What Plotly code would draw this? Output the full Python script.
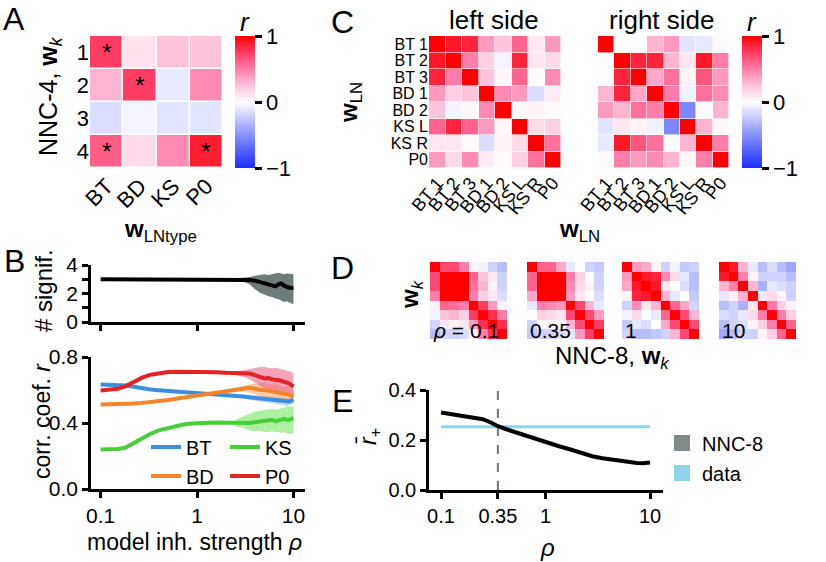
import plotly.graph_objects as go

W, H = 826, 562
FONT = "Liberation Sans, Arial, Helvetica, sans-serif"

def px(x):
    return x / W

def py(y):
    return 1 - y / H

def dx(a, b):
    return [a / W, b / W]

def dy(top, bottom):
    return [1 - bottom / H, 1 - top / H]

# ---------------- data ----------------
# Panel A
A_cols = ["BT", "BD", "KS", "P0"]
A_rows = ["1", "2", "3", "4"]
A_r = [[0.75, 0.12, 0.25, 0.25],
       [0.30, 0.75, -0.10, 0.45],
       [-0.15, -0.05, -0.12, -0.12],
       [0.62, 0.15, 0.45, 0.88]]
A_sig = [["*", "", "", ""],
         ["", "*", "", ""],
         ["", "", "", ""],
         ["*", "", "", "*"]]

# Panel C
LN_labels = ["BT 1", "BT 2", "BT 3", "BD 1", "BD 2", "KS L", "KS R", "P0"]
C_left = [[1.00, 0.90, 0.85, 0.40, 0.25, 0.60, 0.10, 0.40],
          [0.90, 1.00, 0.50, 0.20, -0.05, 0.85, 0.10, 0.15],
          [0.85, 0.50, 1.00, 0.25, 0.03, 0.60, 0.02, 0.45],
          [0.40, 0.20, 0.25, 1.00, 0.45, 0.40, -0.15, 0.08],
          [0.25, -0.05, 0.03, 0.45, 1.00, 0.03, 0.05, 0.02],
          [0.60, 0.85, 0.60, 0.40, 0.03, 1.00, 0.15, 0.20],
          [0.10, 0.10, 0.02, -0.15, 0.05, 0.15, 1.00, 0.55],
          [0.40, 0.15, 0.45, 0.08, 0.02, 0.20, 0.55, 1.00]]
C_right = [[1.00, 0.00, 0.00, 0.30, 0.40, -0.12, -0.10, 0.02],
           [0.00, 1.00, 0.85, 0.85, 0.30, 0.10, 0.90, 0.50],
           [0.00, 0.85, 1.00, 0.35, 0.55, 0.05, 0.65, 0.40],
           [0.30, 0.85, 0.35, 1.00, 0.50, -0.06, 0.55, 0.45],
           [0.40, 0.30, 0.55, 0.50, 1.00, -0.55, 0.02, 0.30],
           [-0.12, 0.10, 0.05, -0.06, -0.55, 1.00, 0.30, 0.03],
           [-0.10, 0.90, 0.65, 0.55, 0.02, 0.30, 1.00, 0.50],
           [0.02, 0.50, 0.40, 0.45, 0.30, 0.03, 0.50, 1.00]]

# Panel D
D_labels = ["<i>ρ</i> = 0.1", "0.35", "1", "10"]
D_01 = [[1, 0.7, 0.7, 0.5, 0.05, -0.05, -0.2, -0.3],
        [0.7, 1, 1, 1, 0.6, 0.25, 0.1, -0.2],
        [0.7, 1, 1, 1, 0.55, 0.3, 0.05, -0.2],
        [0.5, 1, 1, 1, 0.5, 0.2, 0.1, -0.15],
        [0.05, 0.6, 0.55, 0.5, 1, 0.75, 0.4, 0.05],
        [-0.05, 0.25, 0.3, 0.2, 0.75, 1, 0.8, 0.5],
        [-0.2, 0.1, 0.05, 0.1, 0.4, 0.8, 1, 0.8],
        [-0.3, -0.2, -0.2, -0.15, 0.05, 0.5, 0.8, 1]]
D_035 = [[1, 0.6, 0.6, 0.35, -0.1, 0.0, -0.2, -0.25],
         [0.6, 1, 1, 1, 0.5, 0.2, 0.0, -0.2],
         [0.6, 1, 1, 1, 0.45, 0.15, 0.05, -0.2],
         [0.35, 1, 1, 1, 0.4, 0.1, 0.0, -0.15],
         [-0.1, 0.5, 0.45, 0.4, 1, 0.7, 0.3, -0.1],
         [0.0, 0.2, 0.15, 0.1, 0.7, 1, 0.7, 0.4],
         [-0.2, 0.0, 0.05, 0.0, 0.3, 0.7, 1, 0.75],
         [-0.25, -0.2, -0.2, -0.15, -0.1, 0.4, 0.75, 1]]
D_1 = [[1, 0.4, 0.35, 0.05, -0.2, -0.05, -0.25, -0.2],
       [0.4, 1, 0.9, 0.85, 0.45, 0.15, -0.1, -0.3],
       [0.35, 0.9, 1, 0.9, 0.1, 0.0, -0.15, -0.3],
       [0.05, 0.85, 0.9, 1, 0.3, -0.1, 0.0, -0.25],
       [-0.2, 0.45, 0.1, 0.3, 1, 0.6, 0.35, -0.2],
       [-0.05, 0.15, 0.0, -0.1, 0.6, 1, 0.7, 0.3],
       [-0.25, -0.1, -0.15, 0.0, 0.35, 0.7, 1, 0.7],
       [-0.2, -0.3, -0.3, -0.25, -0.2, 0.3, 0.7, 1]]
D_10 = [[1, 0.9, 0.3, -0.1, -0.3, -0.15, -0.3, -0.4],
        [0.9, 1, 0.5, 0.05, -0.2, -0.2, -0.2, -0.3],
        [0.3, 0.5, 1, 0.3, -0.35, -0.1, -0.15, -0.2],
        [-0.1, 0.05, 0.3, 1, 0.1, 0.15, 0.05, -0.2],
        [-0.3, -0.2, -0.35, 0.1, 1, 0.5, 0.2, 0.05],
        [-0.15, -0.2, -0.1, 0.15, 0.5, 1, 0.5, 0.2],
        [-0.3, -0.2, -0.15, 0.05, 0.2, 0.5, 1, 0.6],
        [-0.4, -0.3, -0.2, -0.2, 0.05, 0.2, 0.6, 1]]
D_mats = [D_01, D_035, D_1, D_10]

# Panel B
rho_B = [0.1, 0.12, 0.15, 0.18, 0.22, 0.27, 0.33, 0.4, 0.5, 0.65, 0.8, 1.0, 1.3, 1.6, 2.0,
         2.5, 3.0, 3.5, 4.0, 4.5, 5.0, 5.5, 6.0, 6.5, 7.0, 7.5, 8.0, 8.5, 9.0, 9.5, 10.0]
signif = [3, 3, 3, 3, 3, 3, 3, 3, 3, 3, 3, 3, 3, 3, 3,
          3.0, 3.0, 2.95, 2.9, 2.8, 2.7, 2.65, 2.58, 2.5, 2.65, 2.7, 2.55, 2.45, 2.42, 2.38, 2.4]
r_BT = [0.634, 0.634, 0.632, 0.628, 0.620, 0.610, 0.603, 0.599, 0.595, 0.591, 0.588, 0.585, 0.580, 0.576, 0.571,
        0.566, 0.560, 0.556, 0.552, 0.549, 0.546, 0.543, 0.542, 0.538, 0.536, 0.534, 0.530, 0.526, 0.530, 0.535, 0.540]
r_BD = [0.512, 0.512, 0.513, 0.515, 0.518, 0.522, 0.527, 0.533, 0.540, 0.550, 0.558, 0.567, 0.577, 0.585, 0.594,
        0.603, 0.610, 0.613, 0.608, 0.600, 0.600, 0.596, 0.590, 0.590, 0.585, 0.580, 0.578, 0.575, 0.570, 0.565, 0.560]
r_KS = [0.240, 0.240, 0.242, 0.250, 0.280, 0.310, 0.335, 0.355, 0.370, 0.385, 0.395, 0.400, 0.402, 0.403, 0.402,
        0.400, 0.400, 0.400, 0.405, 0.410, 0.410, 0.415, 0.420, 0.410, 0.415, 0.420, 0.425, 0.420, 0.418, 0.425, 0.430]
r_P0 = [0.597, 0.600, 0.607, 0.622, 0.648, 0.675, 0.693, 0.703, 0.709, 0.711, 0.711, 0.710, 0.709, 0.707, 0.704,
        0.700, 0.698, 0.700, 0.690, 0.680, 0.670, 0.672, 0.665, 0.660, 0.660, 0.655, 0.652, 0.645, 0.640, 0.630, 0.620]

rho_band = [2.5, 3.0, 3.5, 4.0, 4.5, 5.0, 5.5, 6.0, 6.5, 7.0, 7.5, 8.0, 8.5, 9.0, 9.5, 10.0]
signif_hi = [3.05, 3.1, 3.15, 3.25, 3.3, 3.35, 3.3, 3.35, 3.45, 3.45, 3.4, 3.35, 3.4, 3.4, 3.38, 3.35]
signif_lo = [2.95, 2.85, 2.65, 2.3, 2.05, 1.9, 1.8, 1.75, 1.65, 1.6, 1.5, 1.4, 1.45, 1.4, 1.3, 1.25]
BT_hi = [0.572, 0.570, 0.570, 0.570, 0.568, 0.565, 0.562, 0.560, 0.558, 0.556, 0.555, 0.553, 0.550, 0.552, 0.555, 0.560]
BT_lo = [0.560, 0.550, 0.540, 0.535, 0.530, 0.527, 0.523, 0.520, 0.518, 0.515, 0.512, 0.507, 0.502, 0.508, 0.515, 0.520]
BD_hi = [0.610, 0.625, 0.635, 0.640, 0.645, 0.645, 0.640, 0.635, 0.640, 0.630, 0.625, 0.620, 0.625, 0.615, 0.610, 0.600]
BD_lo = [0.595, 0.590, 0.585, 0.575, 0.560, 0.555, 0.550, 0.545, 0.540, 0.540, 0.535, 0.535, 0.530, 0.525, 0.520, 0.520]
KS_hi = [0.420, 0.440, 0.460, 0.470, 0.475, 0.480, 0.480, 0.485, 0.480, 0.485, 0.490, 0.495, 0.495, 0.500, 0.500, 0.500]
KS_lo = [0.380, 0.370, 0.355, 0.350, 0.350, 0.345, 0.345, 0.350, 0.345, 0.345, 0.340, 0.345, 0.340, 0.335, 0.335, 0.335]
P0_hi = [0.710, 0.720, 0.730, 0.735, 0.740, 0.740, 0.735, 0.730, 0.735, 0.730, 0.725, 0.720, 0.720, 0.715, 0.710, 0.700]
P0_lo = [0.690, 0.680, 0.665, 0.645, 0.625, 0.610, 0.605, 0.600, 0.590, 0.585, 0.580, 0.570, 0.565, 0.560, 0.555, 0.545]

# Panel E
rho_E = [0.1, 0.12, 0.15, 0.2, 0.25, 0.3, 0.35, 0.45, 0.6, 0.8, 1.0, 1.3, 1.7, 2.2, 2.8, 3.5, 4.5, 5.5, 6.5, 7.5, 8.5, 10]
r_plus = [0.31, 0.305, 0.30, 0.293, 0.283, 0.27, 0.255, 0.239, 0.222, 0.205, 0.19, 0.177, 0.163, 0.148, 0.135, 0.127,
          0.12, 0.115, 0.112, 0.108, 0.107, 0.11]
rho_data = [0.1, 10]
r_data = [0.253, 0.253]
rho_chosen = 0.35

# ---------------- styling ----------------
CS = [[0.0, "rgb(25,45,255)"], [0.25, "rgb(135,145,252)"], [0.5, "rgb(255,255,255)"],
      [0.625, "rgb(255,195,220)"], [0.75, "rgb(255,125,170)"], [0.875, "rgb(255,60,100)"],
      [1.0, "rgb(255,0,0)"]]
C_BT, C_BD, C_KS, C_P0 = "#3b8fe0", "#f5842a", "#47cf38", "#e42326"
BAND = {"BT": "rgba(110,185,235,0.55)", "BD": "rgba(245,160,100,0.55)",
        "KS": "rgba(120,230,100,0.6)", "P0": "rgba(235,90,130,0.55)"}

fig = go.Figure()

# A heatmap
fig.add_trace(go.Heatmap(z=A_r, x=A_cols, y=A_rows, coloraxis="coloraxis", xgap=1.5, ygap=1.5,
                         text=A_sig, texttemplate="%{text}", textfont=dict(size=24, color="black"),
                         xaxis="x", yaxis="y", hoverinfo="skip"))
# C heatmaps
fig.add_trace(go.Heatmap(z=C_left, x=LN_labels, y=LN_labels, coloraxis="coloraxis2", xgap=0.6, ygap=0.6,
                         xaxis="x2", yaxis="y2"))
fig.add_trace(go.Heatmap(z=C_right, x=LN_labels, y=LN_labels, coloraxis="coloraxis2", xgap=0.6, ygap=0.6,
                         xaxis="x3", yaxis="y3"))
# D heatmaps
for i, m in enumerate(D_mats):
    fig.add_trace(go.Heatmap(z=m, coloraxis="coloraxis3", xaxis=f"x{4+i}", yaxis=f"y{4+i}"))

# B top
fig.add_trace(go.Scatter(x=rho_band + rho_band[::-1], y=signif_hi + signif_lo[::-1], fill="toself",
                         fillcolor="rgb(112,124,124)", line=dict(width=0), mode="lines",
                         showlegend=False, xaxis="x8", yaxis="y8"))
fig.add_trace(go.Scatter(x=rho_B, y=signif, mode="lines", line=dict(color="black", width=4),
                         showlegend=False, xaxis="x8", yaxis="y8"))

# B bottom bands
for key, hi, lo in [("BT", BT_hi, BT_lo), ("BD", BD_hi, BD_lo), ("KS", KS_hi, KS_lo), ("P0", P0_hi, P0_lo)]:
    fig.add_trace(go.Scatter(x=rho_band + rho_band[::-1], y=hi + lo[::-1], fill="toself",
                             fillcolor=BAND[key], line=dict(width=0), mode="lines",
                             showlegend=False, xaxis="x9", yaxis="y9"))
# B bottom lines
for name, ys, col, lg in [("BT", r_BT, C_BT, "legend"), ("BD", r_BD, C_BD, "legend3"),
                          ("KS", r_KS, C_KS, "legend2"), ("P0", r_P0, C_P0, "legend4")]:
    fig.add_trace(go.Scatter(x=rho_B, y=ys, mode="lines", name=name, line=dict(color=col, width=4),
                             legend=lg, xaxis="x9", yaxis="y9"))

# E
fig.add_trace(go.Scatter(x=[rho_chosen, rho_chosen], y=[0, 0.4], mode="lines",
                         line=dict(color="#6e7878", width=2, dash="dash"), showlegend=False,
                         xaxis="x10", yaxis="y10"))
fig.add_trace(go.Scatter(x=rho_data, y=r_data, mode="lines", line=dict(color="#8fd3ec", width=3),
                         showlegend=False, xaxis="x10", yaxis="y10"))
fig.add_trace(go.Scatter(x=rho_E, y=r_plus, mode="lines", line=dict(color="black", width=4),
                         showlegend=False, xaxis="x10", yaxis="y10"))
fig.add_trace(go.Scatter(x=[None], y=[None], mode="markers", name="NNC-8",
                         marker=dict(symbol="square", size=16, color="#7f8a8a"),
                         legend="legend5", xaxis="x10", yaxis="y10"))
fig.add_trace(go.Scatter(x=[None], y=[None], mode="markers", name="data",
                         marker=dict(symbol="square", size=16, color="#8fd3ec"),
                         legend="legend6", xaxis="x10", yaxis="y10"))

# ---------------- layout ----------------
def hm_axes(xdom, ydom, labels, n, xlabels=True, ylabels=True, xfs=18, yfs=16, angle=-50):
    xa = dict(domain=xdom, range=[-0.5, n - 0.5], showgrid=False, zeroline=False, ticks="",
              showticklabels=xlabels, tickangle=angle, tickfont=dict(size=xfs), showline=False)
    ya = dict(domain=ydom, range=[n - 0.5, -0.5], showgrid=False, zeroline=False, ticks="",
              showticklabels=ylabels, tickfont=dict(size=yfs), showline=False)
    if labels is not None:
        xa.update(tickmode="array", tickvals=labels, ticktext=labels, type="category")
        ya.update(tickmode="array", tickvals=labels, ticktext=labels, type="category")
    return xa, ya

def line_axes(xdom, ydom, xrange, yrange, xtickvals, xticktext, ytickvals, yticktext, fs):
    common = dict(showgrid=False, zeroline=False, showline=True, linecolor="black", linewidth=2.5,
                  ticks="outside", ticklen=6, tickwidth=2.5, tickcolor="black", tickfont=dict(size=fs))
    xa = dict(domain=xdom, type="log", range=xrange, tickmode="array", tickvals=xtickvals,
              ticktext=xticktext, **common)
    ya = dict(domain=ydom, range=yrange, tickmode="array", tickvals=ytickvals, ticktext=yticktext, **common)
    return xa, ya

lay = {}
xa, ya = hm_axes(dx(90, 223), dy(36, 168), None, 4, xfs=22, yfs=22, angle=-45)
lay["xaxis"], lay["yaxis"] = dict(xa, anchor="y"), dict(ya, anchor="x")
xa, ya = hm_axes(dx(429, 561), dy(36, 168), LN_labels, 8)
lay["xaxis2"], lay["yaxis2"] = dict(xa, anchor="y2"), dict(ya, anchor="x2")
xa, ya = hm_axes(dx(598, 729), dy(36, 168), LN_labels, 8, ylabels=False)
lay["xaxis3"], lay["yaxis3"] = dict(xa, anchor="y3"), dict(ya, anchor="x3")
D_x = [(430, 507), (527, 604), (622, 699), (719, 796)]
for i, (a, b) in enumerate(D_x):
    xa, ya = hm_axes(dx(a, b), dy(262, 339), None, 8, xlabels=False, ylabels=False)
    lay[f"xaxis{4+i}"] = dict(xa, anchor=f"y{4+i}")
    lay[f"yaxis{4+i}"] = dict(ya, anchor=f"x{4+i}")

xa, ya = line_axes(dx(91, 305), dy(265, 322), [-1.1, 1.12], [0, 4], [0.1, 1, 10], ["", "", ""],
                   [0, 1, 2, 3, 4], ["0", "", "2", "", "4"], 21)
lay["xaxis8"], lay["yaxis8"] = dict(xa, anchor="y8"), dict(ya, anchor="x8")
xa, ya = line_axes(dx(91, 305), dy(357, 489), [-1.1, 1.12], [0, 0.8], [0.1, 1, 10], ["0.1", "1", "10"],
                   [0, 0.4, 0.8], ["0.0", "0.4", "0.8"], 21)
lay["xaxis9"], lay["yaxis9"] = dict(xa, anchor="y9"), dict(ya, anchor="x9")
xa, ya = line_axes(dx(429, 663), dy(390, 490), [-1.115, 1.124], [0, 0.4], [0.1, 0.35, 1, 10],
                   ["0.1", "0.35", "1", "10"], [0, 0.2, 0.4], ["0.0", "0.2", "0.4"], 20)
lay["xaxis10"], lay["yaxis10"] = dict(xa, anchor="y10"), dict(ya, anchor="x10")

cb_common = dict(lenmode="pixels", len=132, thicknessmode="pixels", thickness=20, outlinewidth=0,
                 xanchor="left", yanchor="middle", y=py(102), xpad=0, ypad=0,
                 tickmode="array", tickvals=[-1, 0, 1], ticktext=["\u22121", "0", "1"],
                 ticks="outside", ticklen=7, tickwidth=2.5, tickcolor="black",
                 tickfont=dict(size=22, family=FONT, color="black"))
lay["coloraxis"] = dict(colorscale=CS, cmin=-1, cmax=1, colorbar=dict(x=px(235), **cb_common))
lay["coloraxis2"] = dict(colorscale=CS, cmin=-1, cmax=1, colorbar=dict(x=px(742), **cb_common))
lay["coloraxis3"] = dict(colorscale=CS, cmin=-1, cmax=1, showscale=False)

leg_common = dict(bgcolor="rgba(0,0,0,0)", borderwidth=0, font=dict(size=20, family=FONT, color="black"),
                  xanchor="left", yanchor="middle", itemwidth=30)
lay["legend"] = dict(x=px(146), y=py(447), **leg_common)
lay["legend2"] = dict(x=px(225), y=py(447), **leg_common)
lay["legend3"] = dict(x=px(146), y=py(476), **leg_common)
lay["legend4"] = dict(x=px(225), y=py(476), **leg_common)
lay["legend5"] = dict(x=px(662), y=py(443), **leg_common)
lay["legend6"] = dict(x=px(662), y=py(473), **leg_common)

ann = []
def A(x, y, text, size, angle=0, xanchor="center", yanchor="middle"):
    ann.append(dict(x=px(x), y=py(y), xref="paper", yref="paper", text=text, showarrow=False,
                    font=dict(size=size, family=FONT, color="black"), textangle=angle,
                    xanchor=xanchor, yanchor=yanchor))

# panel letters
A(14, 19, "A", 32); A(14, 261, "B", 32); A(342, 22, "C", 32); A(342, 268, "D", 32); A(342, 401, "E", 32)
# A titles
A(50, 96, "NNC-4, <b>w</b><i><sub>k</sub></i>", 25, angle=-90)
A(160, 230, "<b>w</b><sub>LNtype</sub>", 24)
A(245, 22, "<i>r</i>", 26)
# C titles
A(494, 20, "left side", 26); A(662, 20, "right side", 26)
A(752, 22, "<i>r</i>", 26)
A(350, 103, "<b>w</b><sub>LN</sub>", 24, angle=-90)
A(579, 231, "<b>w</b><sub>LN</sub>", 24)
# B titles
A(43, 291, "# signif.", 24, angle=-90)
A(42, 421, "corr. coef. <i>r</i>", 23, angle=-90)
A(194, 542, "model inh. strength <i>ρ</i>", 23)
# D
for lbl, (a, b) in zip(D_labels, D_x):
    A(a + 1, 330, lbl, 21, xanchor="left")
A(411, 294, "<b>w</b><i><sub>k</sub></i>", 24, angle=-90)
A(612, 357, "NNC-8, <b>w</b><i><sub>k</sub></i>", 24)
# E
A(369, 437, "<i>r̄</i><sub>+</sub>", 23, angle=-90)
A(547, 547, "<i>ρ</i>", 24)

fig.update_layout(width=W, height=H, margin=dict(l=0, r=0, t=0, b=0, autoexpand=False),
                  paper_bgcolor="white", plot_bgcolor="rgba(0,0,0,0)",
                  font=dict(family=FONT, color="black"), annotations=ann, **lay)

fig.write_html("out.html", config={"displayModeBar": False},
               post_script="document.body.style.margin='0px';document.body.style.padding='0px';"
                           "document.documentElement.style.overflow='hidden';")
